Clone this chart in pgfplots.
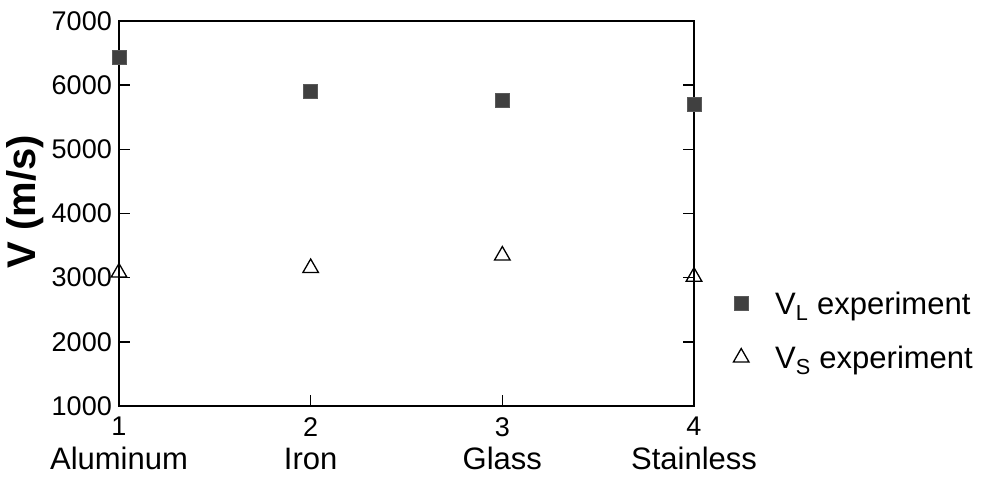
\documentclass[border=0pt]{standalone}
\usepackage{fontspec}
\setmainfont{Liberation Sans}
\usepackage{pgfplots}
\pgfplotsset{compat=1.18}
\begin{document}
\begin{tikzpicture}
\path[use as bounding box] (-119pt,-75pt) rectangle (868pt,406pt);
\begin{axis}[
  at={(0,0)}, anchor=south west,
  scale only axis, width=575pt, height=385pt,
  clip=false,
  xmin=1, xmax=4, ymin=1000, ymax=7000,
  xtick={1,2,3,4}, ytick={1000,2000,3000,4000,5000,6000,7000},
  xtick pos=bottom, ytick pos=both, yticklabel pos=left,
  tick align=inside, major tick length=11pt,
  axis line style={line width=1.5pt},
  every tick/.style={line width=1.4pt, black},
  /pgf/number format/assume math mode=true,
  /pgf/number format/1000 sep={},
  scaled ticks=false,
  tick label style={font=\fontsize{27}{27}\selectfont},
  yticklabel style={inner sep=0pt, xshift=-7pt},
  xticklabel style={inner sep=0pt, yshift=-11pt},
  extra x ticks={1,2,3,4},
  extra x tick labels={Aluminum,Iron,Glass,Stainless},
  extra x tick style={major tick length=0pt, tick label style={font=\fontsize{31}{31}\selectfont, inner sep=0pt, text height=23pt, text depth=6pt, yshift=-29pt, anchor=north}},
  ylabel={\bfseries V (m/s)},
  ylabel style={font=\fontsize{40}{40}\selectfont, at={(axis description cs:-0.163,0.53)}, anchor=center},
  legend style={draw=none, fill=none, at={(axis description cs:1.0,0.196)}, anchor=west, xshift=30pt,
    font=\fontsize{31}{31}\selectfont, row sep=26pt, cells={anchor=west}},
  legend image code/.code={\path[draw=none] (0pt,0pt) -- (46pt,0pt); \draw[#1] plot[only marks] coordinates {(14pt,0pt)};},
]
\addplot[only marks, mark=square*, mark size=7pt, mark options={fill=black!75, draw=black!65, line width=0.6pt}]
  coordinates {(1,6430) (2,5910) (3,5760) (4,5700)};
\addlegendentry{V\textsubscript{L} experiment}
\addplot[only marks, mark=triangle, mark size=9pt, mark options={draw=black, line width=1.3pt}]
  coordinates {(1,3080) (2,3150) (3,3345) (4,3015)};
\addlegendentry{V\textsubscript{S} experiment}
\end{axis}
\end{tikzpicture}
\end{document}
